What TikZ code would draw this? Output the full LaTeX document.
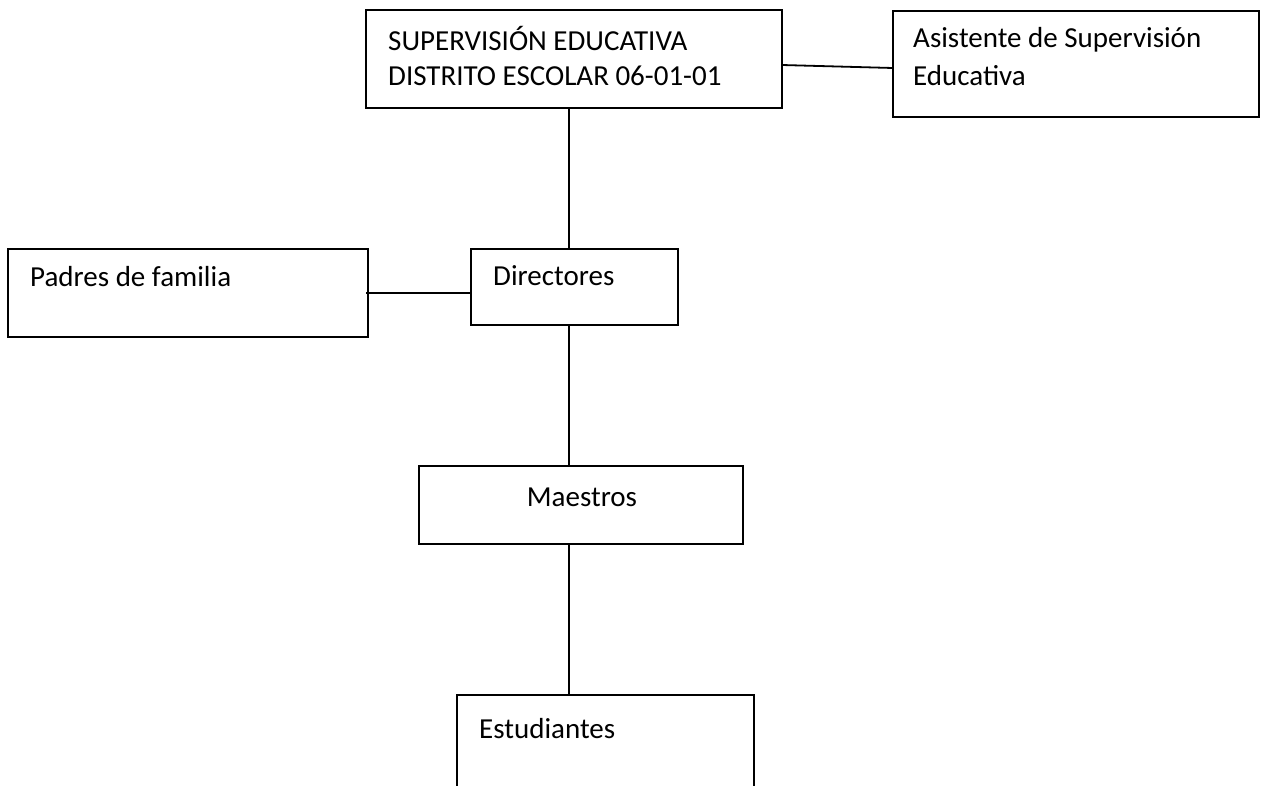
\documentclass[tikz,border=0pt]{standalone}
\usepackage{fontspec}
\setmainfont{Carlito}
\begin{document}
\begin{tikzpicture}[x=1pt,y=-1pt,
  box/.style={draw, line width=1.8pt, inner sep=0pt, outer sep=0pt, anchor=north west},
  lbl/.style={anchor=base west, inner sep=0pt, font=\fontsize{29}{35}\selectfont},
  conn/.style={line width=1.8pt}]
\useasboundingbox (0,0) rectangle (1264,785);
\clip (0,0) rectangle (1264,785);
\node[box, minimum width=416pt, minimum height=98pt] (sup) at (366,10) {};
\node[box, minimum width=366pt, minimum height=106pt] (asis) at (893,11) {};
\node[box, minimum width=360pt, minimum height=88pt] (padres) at (8,249) {};
\node[box, minimum width=207pt, minimum height=76pt] (dir) at (471,249) {};
\node[box, minimum width=324pt, minimum height=78pt] (maes) at (419,466) {};
\node[box, minimum width=297pt, minimum height=150pt] (est) at (457,695) {};
\node[lbl] (supA) at (388,50) {SUPERVISIÓN EDUCATIVA};
\node[lbl] (supB) at (388,85) {DISTRITO ESCOLAR 06-01-01};
\node[lbl] (asisA) at (913,47) {Asistente de Supervisión};
\node[lbl] (asisB) at (913,85) {Educativa};
\node[lbl] (padresT) at (30,286) {Padres de familia};
\node[lbl] (dirT) at (493,285) {Directores};
\node[lbl, anchor=base] (maesT) at (582,506) {Maestros};
\node[lbl] (estT) at (479,738) {Estudiantes};
\coordinate (spine) at (569,0);
\draw[conn] ([yshift=-6pt]sup.east) -- ([yshift=-4pt]asis.west);
\draw[conn] (sup.south -| spine) -- (dir.north -| spine);
\draw[conn] ([xshift=-2pt]padres.east) -- (padres.east -| dir.west);
\draw[conn] (dir.south -| spine) -- (maes.north -| spine);
\draw[conn] (maes.south -| spine) -- (est.north -| spine);
\end{tikzpicture}
\end{document}
